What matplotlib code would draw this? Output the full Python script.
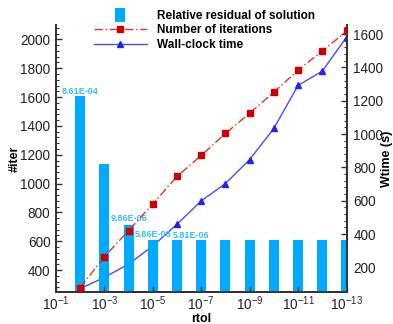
import numpy as np
import matplotlib
matplotlib.use("Agg")
import matplotlib.pyplot as plt
import matplotlib.patches as mpatches
from matplotlib.legend_handler import HandlerPatch
from matplotlib.ticker import AutoMinorLocator, FixedLocator

plt.rcParams["font.family"] = ["Liberation Sans", "DejaVu Sans"]
plt.rcParams["mathtext.fontset"] = "custom"
plt.rcParams["mathtext.rm"] = "Liberation Sans"
plt.rcParams["mathtext.it"] = "Liberation Sans:italic"
plt.rcParams["mathtext.bf"] = "Liberation Sans:bold"

# data
rtol = 10.0 ** -np.arange(2, 14)
residual_bar = [1607, 1135, 710, 610, 610, 610, 610, 610, 610, 610, 610, 610]
n_iter = [279, 493, 674, 860, 1050, 1195, 1348, 1488, 1634, 1787, 1920, 2056]
wtime = [72, 140, 220, 328, 459, 599, 703, 847, 1034, 1292, 1377, 1581]
bar_labels = ["8.61E-04", "9.86E-06", "5.86E-06", "5.81E-06"]
bar_label_x = [1e-2, 1e-4, 1e-5, 10 ** -6.58]
bar_label_y = [1640, 760, 645, 640]
xticks = 10.0 ** -np.arange(1, 14, 2)

bar_color = "#00aaff"
label_color = "#33bbff"


class NarrowBar(HandlerPatch):
    def create_artists(self, legend, orig_handle, xdescent, ydescent,
                       width, height, fontsize, trans):
        w = 0.18 * width
        h = 1.7 * height
        p = mpatches.Rectangle((0.5 * width - w / 2 - xdescent, -ydescent - 0.35 * height), w, h,
                               facecolor=bar_color, edgecolor="none", transform=trans)
        return [p]


fig = plt.figure(figsize=(3.93, 3.24), dpi=100)
ax = fig.add_axes([0.1425, 0.0997, 0.7392, 0.8231])
ax2 = ax.twinx()

# bars with equal width in log space
half = 0.207
left_edges = rtol * 10 ** half
right_edges = rtol * 10 ** -half
widths = right_edges - left_edges
ax.bar(left_edges, residual_bar, width=widths, align="edge",
       color=bar_color, edgecolor="none", zorder=1)

for txt, x, y in zip(bar_labels, bar_label_x, bar_label_y):
    ax.text(x, y, txt, color=label_color, fontsize=6.5, fontweight="bold",
            ha="center", va="center", zorder=3)

red, = ax.plot(rtol, n_iter, color="#e03030", linestyle=(0, (6, 2, 1, 2)), lw=1.0,
               marker="s", markersize=5, markerfacecolor="#cc0000",
               markeredgecolor="#cc0000", zorder=4)
blue, = ax2.plot(rtol, wtime, color="#4a4aff", lw=1.0, marker="^", markersize=4,
                 markerfacecolor="#2222ee", markeredgecolor="#2222ee", zorder=4)

ax.set_xscale("log")
ax.set_xlim(1e-1, 1e-13)
ax.set_ylim(250, 2100)
ax2.set_ylim(54, 1654)

ax.xaxis.set_major_locator(FixedLocator(xticks))
ax.xaxis.set_minor_locator(FixedLocator([]))
ax.set_xticklabels([r"$\mathregular{10^{%d}}$" % int(round(np.log10(t))) for t in xticks])

ax.set_yticks(np.arange(400, 2001, 200))
ax.yaxis.set_minor_locator(AutoMinorLocator(5))
ax2.set_yticks(np.arange(200, 1601, 200))
ax2.yaxis.set_minor_locator(AutoMinorLocator(5))

for a in (ax, ax2):
    a.spines["top"].set_visible(False)
    for s in a.spines.values():
        s.set_linewidth(1.3)
        s.set_color("#333333")
    a.tick_params(which="both", direction="in", labelsize=9.8, colors="#333333",
                  labelcolor="#222222")
    a.tick_params(which="major", length=4, width=1.0)
    a.tick_params(which="minor", length=2, width=0.8)
ax.tick_params(axis="x", pad=2)
ax.tick_params(axis="y", pad=4)
ax2.tick_params(axis="y", pad=5)

ax.set_xlabel("rtol", fontsize=9, fontweight="bold", va="center")
ax.set_ylabel("#iter", fontsize=9, fontweight="bold", va="center")
ax2.set_ylabel("Wtime (s)", fontsize=9, fontweight="bold", va="center")
ax.xaxis.set_label_coords(0.5, -0.103)
ax.yaxis.set_label_coords(-0.141, 0.5)
ax2.yaxis.set_label_coords(1.139, 0.5)

ax.set_zorder(ax2.get_zorder() + 1)
ax.patch.set_visible(False)

handles = [mpatches.Patch(color=bar_color), red, blue]
names = ["Relative residual of solution", "Number of iterations", "Wall-clock time"]
fig.legend(handles, names, loc="upper left", bbox_to_anchor=(0.22, 0.992),
           frameon=False, prop={"weight": "bold", "size": 8.5}, handlelength=4.5,
           labelspacing=0.22, handletextpad=0.9, borderaxespad=0.2,
           handler_map={mpatches.Patch: NarrowBar()})

fig.savefig("out.png", dpi=100)
